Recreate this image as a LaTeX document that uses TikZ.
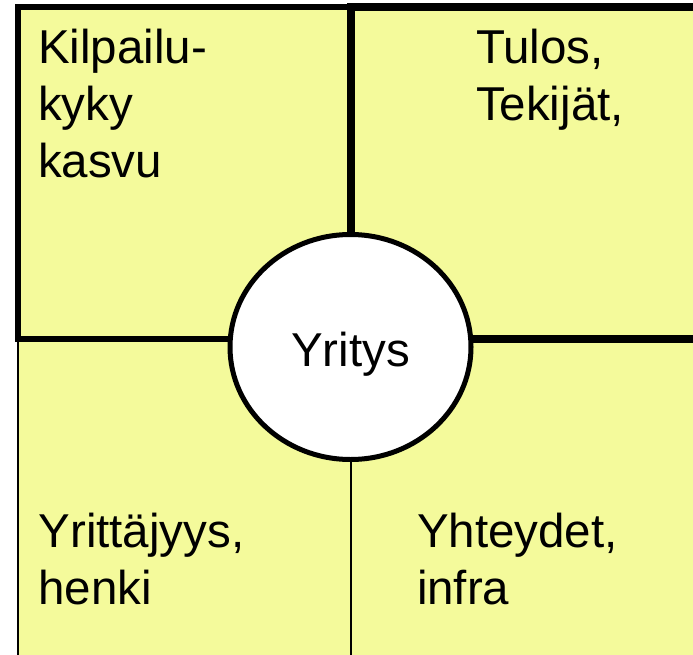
\documentclass[tikz,border=0pt]{standalone}
\usepackage{fontspec}
\setmainfont{Liberation Sans}
\usetikzlibrary{shapes.geometric}
\definecolor{paleyellow}{RGB}{244,250,155}
\begin{document}
\begin{tikzpicture}[x=1pt,y=-1pt,
  thickbox/.style={draw=black,line width=6pt,fill=paleyellow},
  thickerbox/.style={draw=black,line width=7.5pt,fill=paleyellow},
  thinbox/.style={draw=black,line width=2pt,fill=paleyellow},
  txt/.style={anchor=north west,inner sep=0pt,outer sep=0pt,align=left,font=\fontsize{47.5}{57}\selectfont},
  hub/.style={ellipse,draw=black,line width=5pt,fill=white,minimum width=241pt,minimum height=225pt,inner sep=0pt}]
\useasboundingbox (0,0) rectangle (693,655);
% bottom quadrants (thin borders)
\draw[thinbox] (18,339) rectangle (351,680);
\draw[thinbox] (351,339) rectangle (720,680);
% top quadrants (thick borders)
\draw[thickbox] (18,7) rectangle (351,339);
\draw[thickerbox] (351,7) rectangle (720,339);
% hub
\node[hub] (hub) at (350.5,347) {};
\node[anchor=base,inner sep=0pt,font=\fontsize{47.5}{57}\selectfont] (hubtxt) at (350.5,366) {Yritys};
% labels
\node[txt] (tl) at (38,29) {Kilpailu-\\kyky\\kasvu};
\node[txt] (tr) at (476,29) {Tulos,\\Tekijät,};
\node[txt] (bl) at (38.5,513) {Yrittäjyys,\\henki};
\node[txt] (br) at (417,513) {Yhteydet,\\infra};
\end{tikzpicture}
\end{document}
